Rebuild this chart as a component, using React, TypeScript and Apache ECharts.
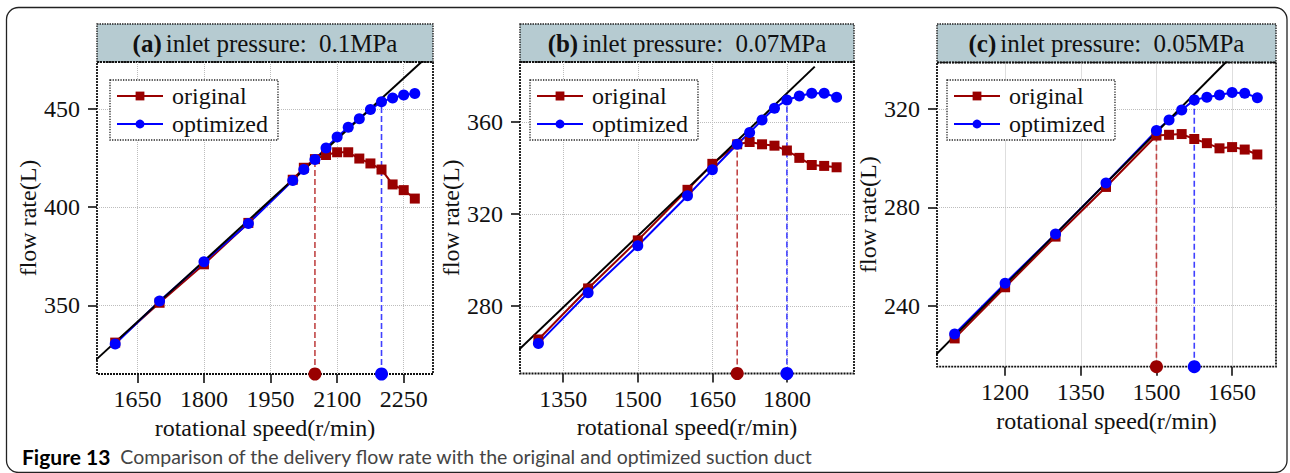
import React, { useEffect, useRef } from 'react';
import * as echarts from 'echarts';

const FONT = '"Liberation Serif", "Times New Roman", serif';

// ---------- data ----------
const speedA = [1600, 1700, 1800, 1900, 2000, 2025, 2050, 2075, 2100, 2125, 2150, 2175, 2200, 2225, 2250, 2275];
const originalA = [331, 351.3, 370.9, 392, 414, 420.1, 424.5, 426.6, 428, 428, 424.8, 422.3, 419.2, 411.6, 408.7, 404.4];
const optimizedA = [330.3, 352.2, 372.2, 391.7, 413.6, 419.2, 424.3, 430.2, 435.8, 440.7, 445.1, 449.8, 453.7, 455.7, 457.2, 458];

const speedB = [1300, 1400, 1500, 1600, 1650, 1700, 1725, 1750, 1775, 1800, 1825, 1850, 1875, 1900];
const originalB = [265.5, 287.7, 308.6, 330.6, 341.9, 350.4, 351.4, 350.4, 349.8, 347.7, 344.5, 341.4, 341, 340.4];
const optimizedB = [263.8, 285.8, 306.3, 328, 339.3, 350.4, 355.5, 361, 366.1, 369.7, 371.4, 372.6, 372.6, 370.9];

const speedC = [1100, 1200, 1300, 1400, 1500, 1525, 1550, 1575, 1600, 1625, 1650, 1675, 1700];
const originalC = [226.7, 247.5, 268.1, 288.3, 309.2, 309.5, 309.8, 307.8, 306.1, 304, 304.5, 303.5, 301.5];
const optimizedC = [228.5, 249.1, 269.2, 289.9, 311.2, 315.5, 319.6, 323.7, 324.8, 325.7, 326.7, 326.4, 324.6];

// theoretical straight line (end points)
const theoryA = [[1540, 318.8], [2300, 476.1]];
const theoryB = [[1240, 256.7], [1856, 384.2]];
const theoryC = [[1050, 217.4], [1700, 351.9]];

// peak (limit) speeds
const peakOriginal = [2050, 1700, 1500];
const peakOptimized = [2200, 1800, 1575];

// axis ranges and tick labels
const xRange = [[1559, 2316], [1263, 1935], [1065, 1737]];
const yRange = [[315, 474], [250.7, 386.2], [215.2, 338.9]];
const xTicksA = [1650, 1800, 1950, 2100, 2250];
const xTicksB = [1350, 1500, 1650, 1800];
const xTicksC = [1200, 1350, 1500, 1650];
const yTicksA = [350, 400, 450];
const yTicksB = [280, 320, 360];
const yTicksC = [240, 280, 320];

const panelLetters = ['a', 'b', 'c'];
const pressures = ['0.1MPa', '0.07MPa', '0.05MPa'];
const captionBold = 'Figure 13';
const captionText = 'Comparison of the delivery flow rate with the original and optimized suction duct';

// ---------- layout ----------
const grids = [
  { left: 97, top: 62, width: 336, height: 312 },
  { left: 520, top: 62, width: 334, height: 311.5 },
  { left: 937, top: 62.5, width: 339, height: 304.2 },
];
const legendPos = [
  { left: 110, top: 80 },
  { left: 530, top: 80 },
  { left: 947, top: 80 },
];
const yNameGap = [54, 56, 53];
const xNameGap = [29, 29, 36];

const RED = '#990000';
const BLUE = '#0000ff';

export default function App() {
  const ref = useRef<HTMLDivElement>(null);
  useEffect(() => {
    document.body.style.margin = '0';
    const chart = echarts.init(ref.current!, null, { renderer: 'svg' });

    const speeds = [speedA, speedB, speedC];
    const originals = [originalA, originalB, originalC];
    const optimizeds = [optimizedA, optimizedB, optimizedC];
    const theories = [theoryA, theoryB, theoryC];
    const xTicks = [xTicksA, xTicksB, xTicksC];
    const yTicks = [yTicksA, yTicksB, yTicksC];

    const xAxis: any[] = [];
    const yAxis: any[] = [];
    const series: any[] = [];
    const legend: any[] = [];
    const graphic: any[] = [];
    const fmt = (v: number) => String(v);

    for (let i = 0; i < 3; i++) {
      const g = grids[i];
      xAxis.push({
        type: 'value', gridIndex: i, min: xRange[i][0], max: xRange[i][1],
        name: 'rotational speed(r/min)', nameLocation: 'middle', nameGap: xNameGap[i],
        nameTextStyle: { fontFamily: FONT, fontSize: 24, color: '#111' },
        axisLine: { show: false },
        axisTick: { show: true, length: 9, customValues: xTicks[i], lineStyle: { color: '#111', width: 1.6 } },
        axisLabel: { customValues: xTicks[i], formatter: fmt, margin: 13, fontFamily: FONT, fontSize: 24, color: '#111' },
        splitLine: { show: true, lineStyle: { color: '#bdbdbd', type: 'dotted', width: 1 } },
      });
      yAxis.push({
        type: 'value', gridIndex: i, min: yRange[i][0], max: yRange[i][1],
        name: 'flow rate(L)', nameLocation: 'middle', nameGap: yNameGap[i],
        nameTextStyle: { fontFamily: FONT, fontSize: 24, color: '#111' },
        axisLine: { show: false },
        axisTick: { show: true, length: 9, customValues: yTicks[i], lineStyle: { color: '#111', width: 1.6 } },
        axisLabel: { customValues: yTicks[i], formatter: fmt, margin: 17, fontFamily: FONT, fontSize: 24, color: '#111' },
        splitLine: { show: true, lineStyle: { color: '#bdbdbd', type: 'dotted', width: 1 } },
      });

      const sp = speeds[i];
      const orig = originals[i];
      const opt = optimizeds[i];
      series.push({
        type: 'line', name: 'original', xAxisIndex: i, yAxisIndex: i,
        data: sp.map((s, k) => [s, orig[k]]),
        symbol: 'rect', symbolSize: 10, color: RED,
        lineStyle: { color: RED, width: 2 }, itemStyle: { color: RED },
      });
      series.push({
        type: 'line', name: 'optimized', xAxisIndex: i, yAxisIndex: i,
        data: sp.map((s, k) => [s, opt[k]]),
        symbol: 'circle', symbolSize: 11, color: BLUE,
        lineStyle: { color: BLUE, width: 2 }, itemStyle: { color: BLUE },
      });
      series.push({
        type: 'line', xAxisIndex: i, yAxisIndex: i, data: theories[i],
        symbol: 'none', silent: true, lineStyle: { color: '#000', width: 2 }, z: 3,
      });
      const yMin = yRange[i][0];
      const rTop = orig[sp.indexOf(peakOriginal[i])];
      const bTop = opt[sp.indexOf(peakOptimized[i])];
      series.push({
        type: 'line', xAxisIndex: i, yAxisIndex: i,
        data: [[peakOriginal[i], yMin], [peakOriginal[i], rTop]],
        symbol: 'none', silent: true, clip: false,
        lineStyle: { color: '#c04545', width: 1.6, type: [6, 3] }, z: 1,
      });
      series.push({
        type: 'line', xAxisIndex: i, yAxisIndex: i,
        data: [[peakOptimized[i], yMin], [peakOptimized[i], bTop]],
        symbol: 'none', silent: true, clip: false,
        lineStyle: { color: '#4040ff', width: 1.6, type: [6, 3] }, z: 1,
      });
      series.push({
        type: 'scatter', xAxisIndex: i, yAxisIndex: i, clip: false, silent: true,
        data: [[peakOriginal[i], yMin]], symbolSize: 13, itemStyle: { color: RED, opacity: 1 }, z: 5,
      });
      series.push({
        type: 'scatter', xAxisIndex: i, yAxisIndex: i, clip: false, silent: true,
        data: [[peakOptimized[i], yMin]], symbolSize: 13, itemStyle: { color: BLUE, opacity: 1 }, z: 5,
      });

      legend.push({
        left: legendPos[i].left, top: legendPos[i].top, orient: 'vertical',
        data: ['original', 'optimized'], selectedMode: false,
        itemWidth: 46, itemHeight: 11, itemGap: 4,
        padding: [4, 10, 4, 6],
        borderColor: '#222', borderWidth: 1.3, borderType: 'dotted',
        backgroundColor: '#fff',
        textStyle: { fontFamily: FONT, fontSize: 24, color: '#111', padding: [0, 0, 0, 4] },
        z: 6,
      });

      // title box
      graphic.push({
        type: 'rect', z: 0,
        shape: { x: g.left, y: 24, width: g.width, height: g.top - 24 },
        style: { fill: '#b6cbd1', stroke: '#222', lineWidth: 1.4, lineDash: [1.5, 1] },
      });
      graphic.push({
        type: 'text', z: 1,
        x: g.left + g.width / 2, y: 43,
        style: {
          text: `{b|(${panelLetters[i]})}{n|inlet pressure: }{m|${pressures[i]}}`,
          align: 'center', verticalAlign: 'middle',
          fontFamily: FONT, fontSize: 25, fill: '#111',
          rich: {
            b: { fontFamily: FONT, fontSize: 25, fontWeight: 'bold', fill: '#111', padding: [0, 4, 0, 0] },
            n: { fontFamily: FONT, fontSize: 25, fill: '#111' },
            m: { fontFamily: FONT, fontSize: 25, fill: '#111', padding: [0, 0, 0, 6] },
          },
        },
      });
      // plot frame
      graphic.push({
        type: 'rect', z: 0, silent: true,
        shape: { x: g.left, y: g.top, width: g.width, height: g.height },
        style: { fill: 'none', stroke: '#111', lineWidth: 1.8, lineDash: [2, 1] },
      });
    }

    // outer frame
    graphic.push({
      type: 'rect', z: 0, silent: true,
      shape: { x: 6.5, y: 7.5, width: 1280.5, height: 465, r: 12 },
      style: { fill: 'none', stroke: '#222', lineWidth: 1.3 },
    });
    // caption
    graphic.push({
      type: 'text', z: 1, x: 22, y: 456,
      style: {
        text: `{b|${captionBold}}{n|  ${captionText}}`,
        verticalAlign: 'middle',
        rich: {
          b: { fontFamily: 'Lato, "Noto Sans", sans-serif', fontSize: 21, fontWeight: 'bold', fill: '#000' },
          n: { fontFamily: 'Lato, "Noto Sans", sans-serif', fontSize: 19.5, fill: '#444' },
        },
      },
    });

    chart.setOption({
      animation: false,
      backgroundColor: '#fff',
      grid: grids.map((g) => ({ ...g, containLabel: false })),
      xAxis, yAxis, series, legend, graphic,
    });
    return () => chart.dispose();
  }, []);
  return <div ref={ref} style={{ width: 1290, height: 473, background: '#fff' }} />;
}
